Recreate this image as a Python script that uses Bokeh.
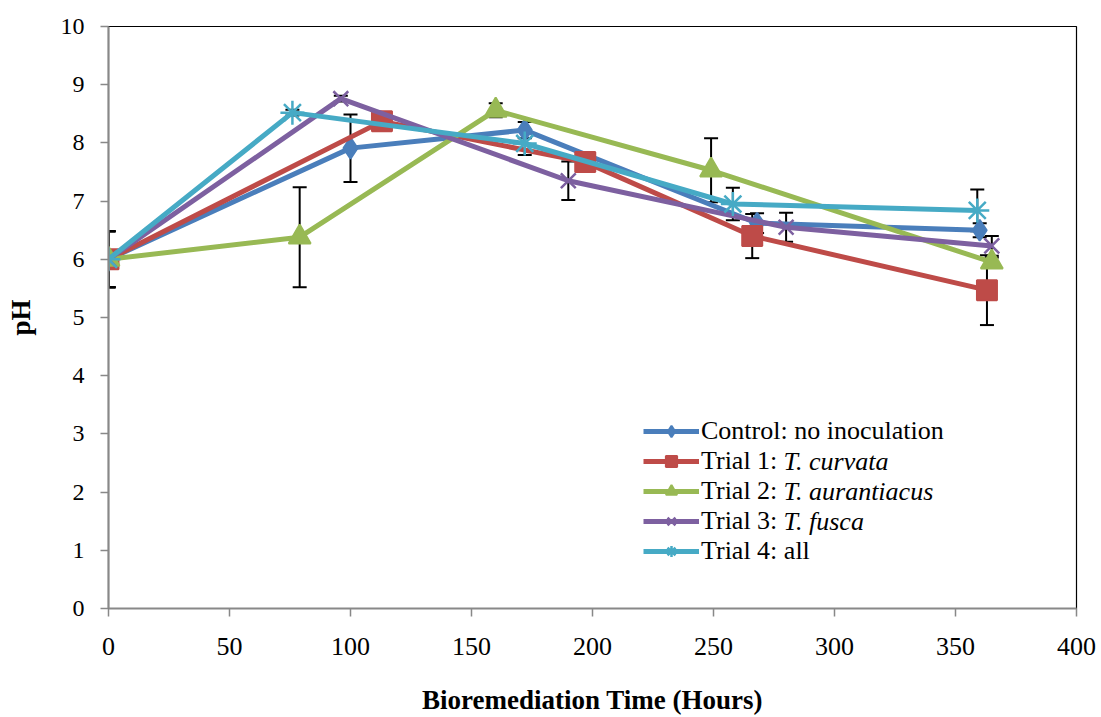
from bokeh.plotting import figure
from bokeh.models import (Whisker, TeeHead, ColumnDataSource, Legend, LegendItem,
                          Label, FixedTicker)
from bokeh.embed import file_html
from bokeh.resources import INLINE

# ---- data ----
series_names = ["Control: no inoculation", "Trial 1:", "Trial 2:", "Trial 3:", "Trial 4: all"]
series_italic = ["", "T. curvata", "T. aurantiacus", "T. fusca", ""]

control_x = [0, 100, 172, 268, 360]
control_y = [6.0, 7.91, 8.22, 6.62, 6.50]
control_err = [0.48, 0.58, 0.14, 0.17, 0.12]

trial1_x = [0, 113, 197, 266, 363]
trial1_y = [6.0, 8.37, 7.67, 6.40, 5.47]
trial1_err = [0.48, 0.06, 0.06, 0.38, 0.60]

trial2_x = [0, 79, 160, 249, 365]
trial2_y = [6.0, 6.38, 8.56, 7.53, 5.95]
trial2_err = [0.48, 0.86, 0.12, 0.55, 0.08]

trial3_x = [0, 96, 190, 280, 365]
trial3_y = [6.0, 8.76, 7.35, 6.55, 6.23]
trial3_err = [0.48, 0.05, 0.33, 0.25, 0.17]

trial4_x = [0, 76, 172, 258, 359]
trial4_y = [6.0, 8.52, 7.99, 6.95, 6.84]
trial4_err = [0.48, 0.05, 0.20, 0.28, 0.36]

x_ticks = [0, 50, 100, 150, 200, 250, 300, 350, 400]
y_ticks = [0, 1, 2, 3, 4, 5, 6, 7, 8, 9, 10]

colors = ["#4A7EBB", "#BE4B48", "#98B954", "#7D60A0", "#46AAC5"]
markers = ["diamond", "square", "triangle", "x", "asterisk"]
msizes = [21, 20, 22, 21, 24]

FONT = "Liberation Serif"

p = figure(width=1101, height=717, x_range=(0, 400), y_range=(0, 10),
           output_backend="svg", toolbar_location=None,
           min_border_left=108, min_border_right=25, min_border_top=26,
           min_border_bottom=108)
p.background_fill_color = "white"
p.border_fill_color = "white"
p.outline_line_color = "black"
p.outline_line_width = 1.2
p.xgrid.visible = False
p.ygrid.visible = False

for ax in (p.xaxis[0], p.yaxis[0]):
    ax.axis_line_color = "#888888"
    ax.axis_line_width = 2
    ax.major_tick_line_color = "#888888"
    ax.major_tick_line_width = 1.5
    ax.major_tick_out = 8
    ax.major_tick_in = 0
    ax.minor_tick_line_color = None
    ax.major_label_text_font = FONT
    ax.major_label_text_color = "black"
    ax.axis_label_text_font = FONT
    ax.axis_label_text_font_style = "bold"
    ax.axis_label_text_font_size = "27px"
    ax.axis_label_text_color = "black"

p.xaxis.major_label_text_font_size = "26px"
p.yaxis.major_label_text_font_size = "24px"
p.xaxis.ticker = FixedTicker(ticks=x_ticks)
p.yaxis.ticker = FixedTicker(ticks=y_ticks)
p.xaxis.axis_label = "Bioremediation Time (Hours)"
p.yaxis.axis_label = "pH"
p.xaxis.major_label_standoff = 21
p.yaxis.major_label_standoff = 16
p.xaxis.axis_label_standoff = 27
p.yaxis.axis_label_standoff = 22

data = [
    (control_x, control_y, control_err),
    (trial1_x, trial1_y, trial1_err),
    (trial2_x, trial2_y, trial2_err),
    (trial3_x, trial3_y, trial3_err),
    (trial4_x, trial4_y, trial4_err),
]

items = []
for i, (xs, ys, es) in enumerate(data):
    src = ColumnDataSource(dict(x=xs, y=ys,
                                up=[y + e for y, e in zip(ys, es)],
                                lo=[y - e for y, e in zip(ys, es)]))
    lr = p.line("x", "y", source=src, line_color=colors[i], line_width=5)
    w = Whisker(source=src, base="x", upper="up", lower="lo", dimension="height",
                line_color="black", line_width=2,
                upper_head=TeeHead(size=14, line_color="black", line_width=2),
                lower_head=TeeHead(size=14, line_color="black", line_width=2))
    p.add_layout(w)
    if markers[i] in ("x", "asterisk"):
        mr = p.scatter("x", "y", source=src, marker=markers[i], size=msizes[i],
                       line_color=colors[i], line_width=2.5, fill_color=None)
    else:
        mr = p.scatter("x", "y", source=src, marker=markers[i], size=msizes[i],
                       line_color=colors[i], line_width=2, fill_color=colors[i])
    items.append(LegendItem(label=series_names[i], renderers=[lr, mr]))

legend = Legend(items=items, location=(535, 42), orientation="vertical",
                background_fill_alpha=0, border_line_color=None,
                padding=0, margin=0, spacing=0,
                glyph_width=56, glyph_height=28, label_height=28,
                label_standoff=2,
                label_text_font=FONT, label_text_font_size="26px",
                label_text_color="black")
p.add_layout(legend, "center")

row_centers = [177, 147, 117, 87, 57]  # screen offsets from frame bottom
for i, txt in enumerate(series_italic):
    if txt:
        p.add_layout(Label(x=675, y=row_centers[i], x_units="screen", y_units="screen",
                           text=txt, text_font=FONT, text_font_style="italic",
                           text_font_size="26px", text_baseline="middle",
                           text_color="black"))

open("out.html", "w").write(file_html(p, INLINE))
